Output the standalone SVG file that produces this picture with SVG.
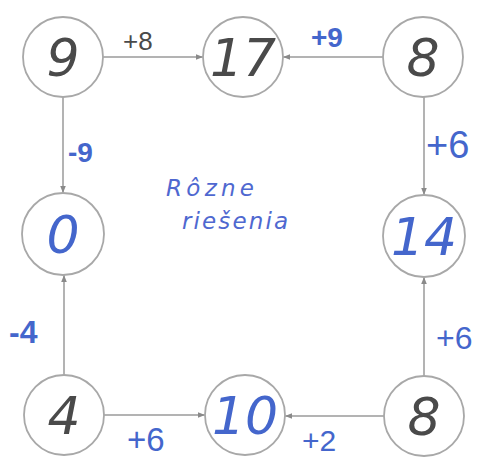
<svg xmlns="http://www.w3.org/2000/svg" width="488" height="459" viewBox="0 0 488 459">
<style>
.node circle{fill:#fff;stroke:#a8a8a8;stroke-width:1.8}
.num{font-family:"DejaVu Sans","Liberation Sans",sans-serif;font-style:italic;font-weight:200;font-size:52px;text-anchor:middle}
.dark{fill:#4a4a4a}
.blue{fill:#4466cc}
.lbl{font-family:"Liberation Sans","DejaVu Sans",sans-serif}
.conn line{stroke:#9a9a9a;stroke-width:1.5}
.note{font-family:"DejaVu Sans","Liberation Sans",sans-serif;font-style:italic;font-size:23px;fill:#4f68d0}
</style>
<defs>
<marker id="ah" viewBox="0 0 10 10" refX="10" refY="5" markerWidth="7" markerHeight="7" orient="auto" markerUnits="userSpaceOnUse">
<path d="M0,1 L10,5 L0,9 z" fill="#8a8a8a"/>
</marker>
</defs>
<g class="conn">
<line x1="103" y1="57" x2="203" y2="57" marker-end="url(#ah)"/>
<line x1="383" y1="57" x2="283" y2="57" marker-end="url(#ah)"/>
<line x1="63" y1="97" x2="63" y2="193" marker-end="url(#ah)"/>
<line x1="424" y1="97" x2="424" y2="195" marker-end="url(#ah)"/>
<line x1="64" y1="375" x2="64" y2="275" marker-end="url(#ah)"/>
<line x1="424" y1="376" x2="424" y2="277" marker-end="url(#ah)"/>
<line x1="104" y1="415" x2="205" y2="415" marker-end="url(#ah)"/>
<line x1="384" y1="416" x2="285" y2="416" marker-end="url(#ah)"/>
<text class="lbl dark" x="123" y="50" style="font-size:26px">+8</text>
<text class="lbl blue" x="311" y="47" style="font-size:28px;font-weight:bold">+9</text>
<text class="lbl blue" x="68" y="162" style="font-size:28px;font-weight:bold">-9</text>
<text class="lbl blue" x="426" y="158" style="font-size:38px">+6</text>
<text class="lbl blue" x="9" y="343" style="font-size:32px;font-weight:bold">-4</text>
<text class="lbl blue" x="436" y="349" style="font-size:32px">+6</text>
<text class="lbl blue" x="127" y="451" style="font-size:33px">+6</text>
<text class="lbl blue" x="302" y="451" style="font-size:30px">+2</text>
</g>
<g id="n9"><g class="node"><circle cx="63" cy="57" r="40"/></g><text class="num dark" x="63" y="76">9</text></g>
<g id="n17"><g class="node"><circle cx="243" cy="57" r="40"/></g><text class="num dark" x="243" y="76">17</text></g>
<g id="n8a"><g class="node"><circle cx="423" cy="57" r="40"/></g><text class="num dark" x="423" y="76">8</text></g>
<g id="n0"><g class="node"><circle cx="63" cy="234" r="41"/></g><text class="num blue" x="63" y="253">0</text></g>
<g id="n14"><g class="node"><circle cx="424" cy="236" r="41"/></g><text class="num blue" x="424" y="255">14</text></g>
<g id="n4"><g class="node"><circle cx="64" cy="415" r="40"/></g><text class="num dark" x="64" y="434">4</text></g>
<g id="n10"><g class="node"><circle cx="245" cy="415" r="40"/></g><text class="num blue" x="245" y="434">10</text></g>
<g id="n8b"><g class="node"><circle cx="424" cy="416" r="40"/></g><text class="num dark" x="424" y="435">8</text></g>
<text class="note" x="166" y="196" textLength="88">Rôzne</text>
<text class="note" x="182" y="229" textLength="106">riešenia</text>
</svg>
